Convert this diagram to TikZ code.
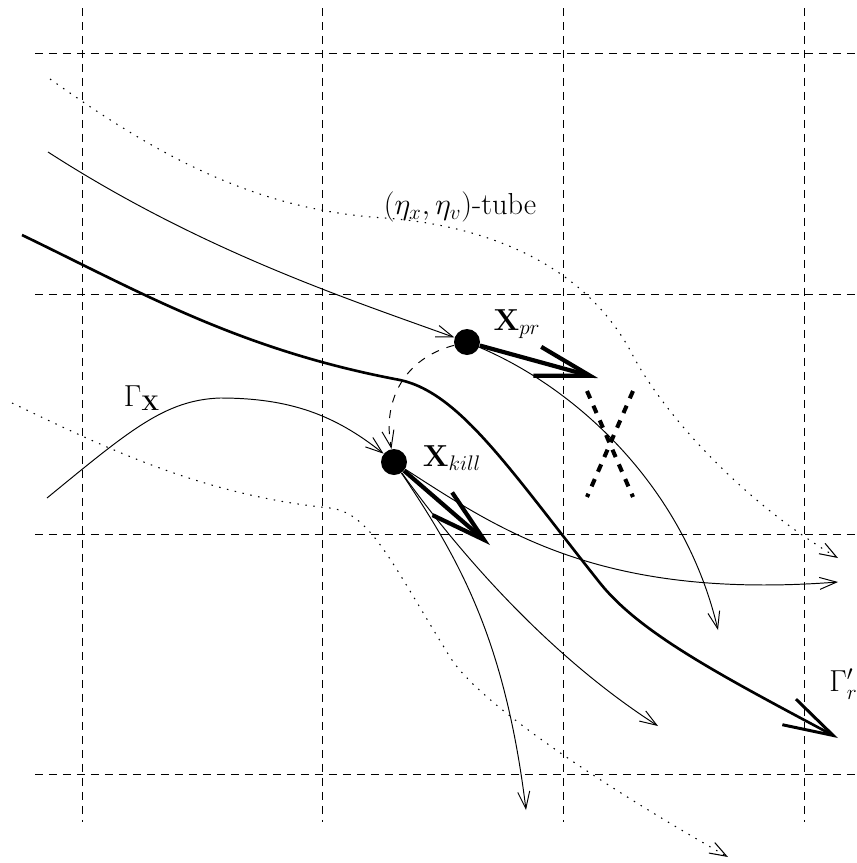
\documentclass[tikz,border=0pt]{standalone}
\usepackage{amsmath}
\usepackage{tikz}
\usetikzlibrary{arrows.meta,positioning}
\tikzset{
  gridline/.style={line width=0.55pt,dash pattern=on 0.16cm off 0.12cm},
  flowline/.style={line width=0.55pt,-{Straight Barb[length=0.34cm,width=0.24cm]}},
  tubeline/.style={line width=0.6pt,dash pattern=on 0.03cm off 0.13cm,-{Straight Barb[length=0.34cm,width=0.24cm]}},
  jumpline/.style={line width=0.55pt,dash pattern=on 0.16cm off 0.16cm,-{Straight Barb[length=0.34cm,width=0.24cm]}},
  mainline/.style={line width=1.5pt,-{Straight Barb[length=1.0cm,width=0.58cm,line width=1.7pt]}},
  kick/.style={line width=2.4pt,-{Straight Barb[length=1.1cm,width=0.6cm]}},
  particle/.style={circle,fill,inner sep=0pt,minimum size=0.52cm},
  cross/.style={line width=2.3pt,dash pattern=on 0.16cm off 0.16cm},
}

\begin{document}
\begin{tikzpicture}[x=0.02cm,y=-0.02cm,every node/.style={font=\LARGE}]
    \useasboundingbox (0,0) rectangle (857,863);

    \foreach \x in {82,322,563,804} {
      \draw[gridline] (\x,8) -- (\x,822);
    }
    \foreach \y in {53,294,534,774} {
      \draw[gridline] (35,\y) -- (857,\y);
    }

    \node[particle] (xpr) at (467,342) {};
    \node[particle] (xkill) at (394,462) {};

    \node (prlabel) at (517,324) {$\mathbf{X}_{pr}$};
    \node (killlabel) at (452,458) {$\mathbf{X}_{kill}$};
    \node (tubelabel) at (460,207) {$(\eta_x,\eta_v)$-tube};
    \node (gxlabel) at (142,398) {$\Gamma_{\mathbf{X}}$};
    \node[anchor=west,inner sep=0pt] (grlabel) at (829,684) {$\Gamma'_r$};

    \coordinate (tube-top) at (50,79);
    \coordinate (tube-top-end) at (838,558);
    \coordinate (tube-bot) at (12,403);
    \coordinate (tube-bot-end) at (728,857);
    \draw[tubeline] (tube-top) .. controls (150,150) and (250,210) .. (385,218)
      .. controls (480,225) and (580,260) .. (630,350)
      .. controls (660,410) and (740,500) .. (tube-top-end);
    \draw[tubeline] (tube-bot) .. controls (100,445) and (200,495) .. (330,508)
      .. controls (370,513) and (390,560) .. (450,657)
      .. controls (480,705) and (610,790) .. (tube-bot-end);

    \coordinate (gr-start) at (22,235);
    \coordinate (gr-end) at (838,738);
    \draw[mainline] (gr-start) .. controls (140,292) and (240,350) .. (400,380)
      .. controls (460,393) and (510,470) .. (600,583)
      .. controls (640,633) and (720,675) .. (gr-end);

    \coordinate (pr-in) at (48,152);
    \coordinate (pr-out) at (718,630);
    \coordinate (gx-start) at (47,498);
    \draw[flowline] (pr-in) .. controls (200,250) and (345,298) .. (xpr);
    \draw[flowline] (xpr) .. controls (580,390) and (685,490) .. (pr-out);
    \draw[flowline] (gx-start) .. controls (130,430) and (165,400) .. (220,398)
      .. controls (290,398) and (335,415) .. (xkill);

    \draw[jumpline] (xpr) .. controls (405,358) and (382,400) .. (xkill);

    \coordinate (pr-kick) at (598,378);
    \coordinate (kill-kick) at (490,545);
    \draw[kick] (xpr) -- (pr-kick);
    \draw[kick] (xkill) -- (kill-kick);

    \coordinate (kill-outA) at (838,582);
    \coordinate (kill-outB) at (658,726);
    \coordinate (kill-outC) at (526,810);
    \draw[flowline] (xkill) .. controls (500,530) and (600,600) .. (kill-outA);
    \draw[flowline] (xkill) .. controls (450,540) and (540,650) .. (kill-outB);
    \draw[flowline] (xkill) .. controls (460,560) and (505,640) .. (kill-outC);

    \draw[cross] (587,391) -- (633,497);
    \draw[cross] (633,391) -- (587,497);
\end{tikzpicture}
\end{document}
